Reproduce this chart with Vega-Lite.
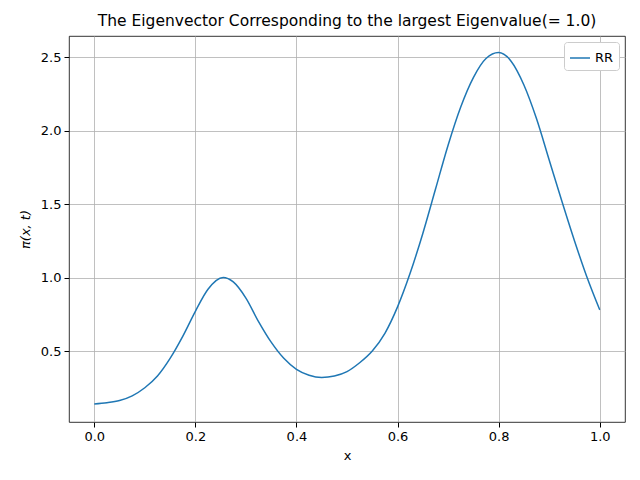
{
  "$schema": "https://vega.github.io/schema/vega-lite/v6.json",
  "autosize": {"type": "none"},
  "padding": {"left": 69, "top": 36, "right": 15, "bottom": 58},
  "width": 556,
  "height": 386,
  "config": {
    "font": "DejaVu Sans",
    "view": {"stroke": "black", "strokeWidth": 0.8},
    "axis": {"labelFontSize": 13, "titleFontSize": 13, "labelColor": "black", "titleColor": "black", "titleFontWeight": "normal", "tickColor": "black", "domain": false, "gridColor": "#b0b0b0", "gridWidth": 0.8, "tickSize": 5, "labelPadding": 3}
  },
  "title": {"text": "The Eigenvector Corresponding to the largest Eigenvalue(= 1.0)", "fontSize": 15.5, "fontWeight": "normal", "color": "black", "offset": 7},
  "data": {"values": [
    {"x": 0.0, "y": 0.14}, {"x": 0.025, "y": 0.148}, {"x": 0.05, "y": 0.163}, {"x": 0.075, "y": 0.195},
    {"x": 0.1, "y": 0.25}, {"x": 0.125, "y": 0.33}, {"x": 0.15, "y": 0.45}, {"x": 0.175, "y": 0.6},
    {"x": 0.2, "y": 0.77}, {"x": 0.225, "y": 0.92}, {"x": 0.255, "y": 1.0}, {"x": 0.275, "y": 0.97},
    {"x": 0.3, "y": 0.86}, {"x": 0.325, "y": 0.7}, {"x": 0.35, "y": 0.56}, {"x": 0.375, "y": 0.45},
    {"x": 0.4, "y": 0.375}, {"x": 0.425, "y": 0.335}, {"x": 0.45, "y": 0.32}, {"x": 0.475, "y": 0.33},
    {"x": 0.5, "y": 0.36}, {"x": 0.525, "y": 0.42}, {"x": 0.55, "y": 0.5}, {"x": 0.575, "y": 0.62},
    {"x": 0.6, "y": 0.8}, {"x": 0.625, "y": 1.03}, {"x": 0.65, "y": 1.3}, {"x": 0.675, "y": 1.6},
    {"x": 0.7, "y": 1.9}, {"x": 0.725, "y": 2.16}, {"x": 0.75, "y": 2.36}, {"x": 0.775, "y": 2.49},
    {"x": 0.8, "y": 2.53}, {"x": 0.825, "y": 2.47}, {"x": 0.85, "y": 2.31}, {"x": 0.875, "y": 2.08},
    {"x": 0.9, "y": 1.8}, {"x": 0.925, "y": 1.52}, {"x": 0.95, "y": 1.25}, {"x": 0.975, "y": 1.0},
    {"x": 1.0, "y": 0.78}
  ]},
  "mark": {"type": "line", "interpolate": "monotone", "strokeWidth": 1.5, "clip": true},
  "encoding": {
    "x": {"field": "x", "type": "quantitative", "title": "x",
      "scale": {"domain": [-0.05, 1.05], "nice": false, "zero": false},
      "axis": {"values": [0, 0.2, 0.4, 0.6, 0.8, 1.0], "format": ".1f", "grid": true, "titlePadding": 6}},
    "y": {"field": "y", "type": "quantitative", "title": "π(x, t)",
      "scale": {"domain": [0.017, 2.643], "nice": false, "zero": false},
      "axis": {"values": [0.5, 1.0, 1.5, 2.0, 2.5], "format": ".1f", "grid": true, "titleFontStyle": "italic", "titlePadding": 8}},
    "color": {"datum": "RR", "type": "nominal",
      "scale": {"range": ["#1f77b4"]},
      "legend": {"title": null, "orient": "top-right", "offset": 6, "labelFontSize": 13, "symbolType": "stroke", "symbolStrokeWidth": 1.5, "symbolSize": 400, "fillColor": "white", "strokeColor": "#cccccc", "padding": 5, "cornerRadius": 3}}
  }
}
